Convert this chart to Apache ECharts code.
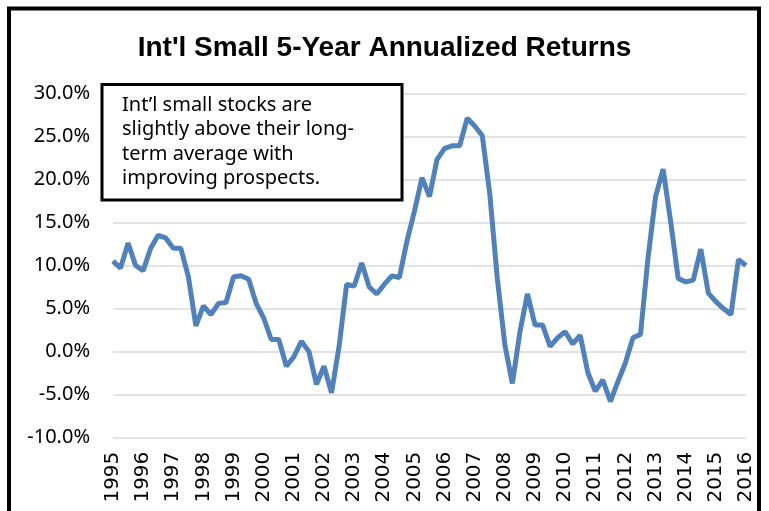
<!DOCTYPE html>
<html>
<head>
<meta charset="utf-8">
<title>Int'l Small 5-Year Annualized Returns</title>
<script src="https://cdn.jsdelivr.net/npm/echarts@6/dist/echarts.min.js"></script>
<style>
	html, body { margin: 0; padding: 0; background: #fff; }
	#dataView { width: 769px; height: 511px; }
</style>
</head>
<body>
<div id="dataView"></div>
<script>
// 年份刻度标签
var years = ['1995', '1996', '1997', '1998', '1999', '2000', '2001', '2002', '2003', '2004', '2005',
	'2006', '2007', '2008', '2009', '2010', '2011', '2012', '2013', '2014', '2015', '2016'];

// 季度收益 (%), 1995 Q1 - 2016 Q1
var returns1995to2000 = [10.5, 9.7, 12.6, 10.0, 9.4, 12.0, 13.5, 13.2, 12.0, 12.0, 8.7, 3.0,
	5.3, 4.3, 5.6, 5.7, 8.7, 8.8, 8.4, 5.6];
var returns2000to2005 = [3.9, 1.4, 1.4, -1.7, -0.6, 1.2, 0.0, -3.8, -1.7, -4.8, 0.6, 7.8,
	7.6, 10.3, 7.5, 6.7, 7.8, 8.8, 8.6, 12.8];
var returns2005to2010 = [16.3, 20.2, 18.0, 22.3, 23.6, 23.9, 23.9, 27.1, 26.2, 25.1, 18.3, 8.5,
	0.8, -3.7, 2.3, 6.7, 3.1, 3.1, 0.6, 1.6];
var returns2010to2016 = [2.3, 0.9, 1.9, -2.4, -4.6, -3.3, -5.8, -3.5, -1.3, 1.6, 2.0, 10.9,
	18.0, 21.2, 15.1, 8.5, 8.1, 8.3, 11.9, 6.8, 5.8, 5.0, 4.3, 10.7, 10.0];

var yTicks = { min: -10, max: 30, interval: 5 };

var noteLines = ['Int\u2019l small stocks are', 'slightly above their long-', 'term average with', 'improving prospects.'];

// 类目: 每年四个季度
var categories = [];
years.forEach(function(y) {
	for (var q = 1; q <= 4; q++) {
		categories.push(y + ' Q' + q);
	}
});
var seriesData = returns1995to2000.concat(returns2000to2005, returns2005to2010, returns2010to2016);
categories = categories.slice(0, seriesData.length);

var dataViewcharts = echarts.init(document.getElementById('dataView'));
var dataViewoption = {
	animation: false,
	title: {
		text: "Int'l Small 5-Year Annualized Returns",
		left: 'center',
		top: 29,
		textStyle: {
			fontFamily: 'Liberation Sans',
			fontWeight: 'bold',
			fontSize: 28,
			color: '#000'
		}
	},
	grid: {
		left: 113,
		right: 23,
		top: 93.3,
		bottom: 73.3
	},
	xAxis: {
		type: 'category',
		boundaryGap: false,
		data: categories,
		axisLine: { show: false, onZero: false },
		axisTick: { show: false },
		axisLabel: {
			interval: 3,
			rotate: 90,
			margin: 14,
			fontFamily: 'DejaVu Sans',
			fontSize: 20,
			color: '#000',
			formatter: function(v) { return v.slice(0, 4); }
		}
	},
	yAxis: {
		type: 'value',
		min: yTicks.min,
		max: yTicks.max,
		interval: yTicks.interval,
		axisLine: { show: false },
		axisTick: { show: false },
		splitLine: { lineStyle: { color: '#d9d9d9', width: 1.5 } },
		axisLabel: {
			margin: 23,
			fontFamily: 'Noto Sans',
			fontSize: 20,
			color: '#000',
			formatter: function(v) { return v.toFixed(1) + '%'; }
		}
	},
	series: [{
		name: '5-Year Annualized',
		type: 'line',
		data: seriesData,
		symbol: 'none',
		lineStyle: { color: '#4f81bd', width: 5 },
		z: 3
	}],
	graphic: [
		{
			// 外框
			type: 'rect',
			shape: { x: 9, y: 8.5, width: 750, height: 600 },
			style: { fill: null, stroke: '#000', lineWidth: 4 },
			silent: true
		},
		{
			// 注释框
			type: 'rect',
			shape: { x: 102, y: 84.5, width: 300, height: 115.5 },
			style: { fill: '#fff', stroke: '#000', lineWidth: 3 },
			z: 10
		},
		{
			type: 'text',
			left: 122,
			top: 93,
			z: 11,
			style: {
				text: noteLines.join('\n'),
				fontFamily: 'Noto Sans',
				fontSize: 20,
				lineHeight: 24.5,
				fill: '#000'
			}
		}
	]
};
dataViewcharts.setOption(dataViewoption);
</script>
</body>
</html>
